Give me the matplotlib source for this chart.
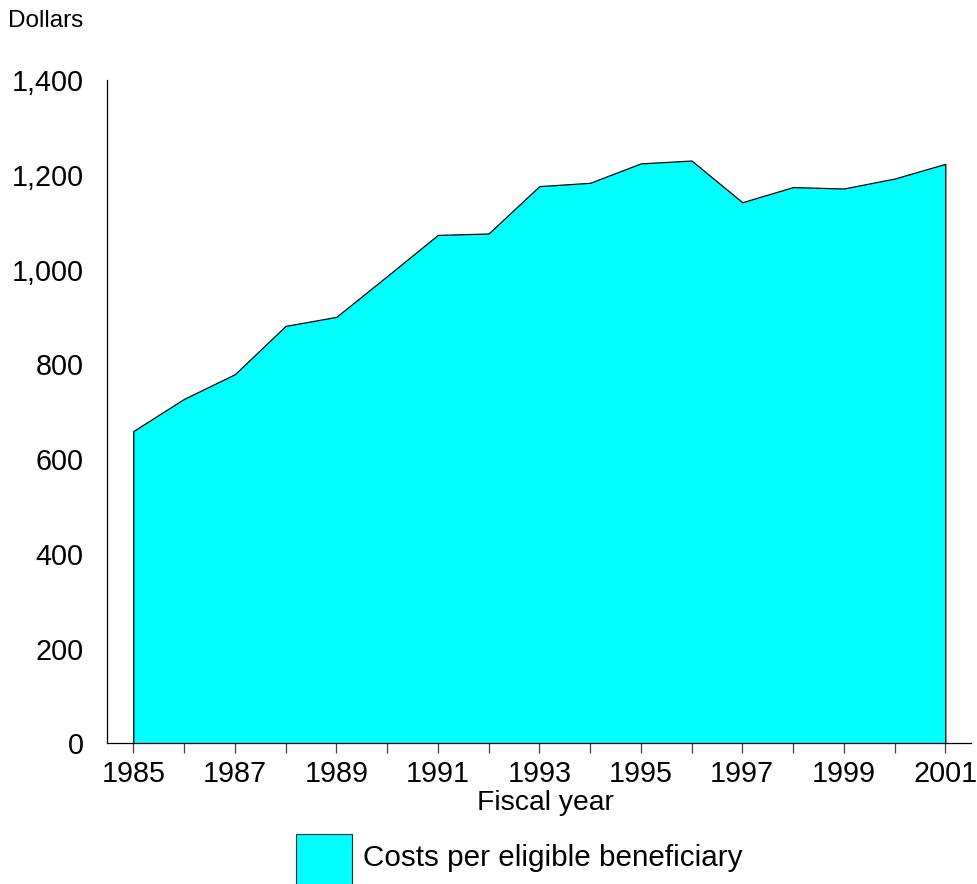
import matplotlib
matplotlib.use("Agg")
import matplotlib.pyplot as plt
from matplotlib.patches import Rectangle
from matplotlib.ticker import FuncFormatter

plt.rcParams['font.family'] = ['Liberation Sans', 'DejaVu Sans']

years = [1985, 1986, 1987, 1988, 1989, 1990, 1991, 1992, 1993, 1994,
         1995, 1996, 1997, 1998, 1999, 2000, 2001]
costs = [659, 727, 779, 881, 900, 986, 1073, 1076, 1176, 1183,
         1224, 1230, 1142, 1174, 1171, 1192, 1223]
y_ticks = [0, 200, 400, 600, 800, 1000, 1200, 1400]
x_label_years = [1985, 1987, 1989, 1991, 1993, 1995, 1997, 1999, 2001]
series_label = "Costs per eligible beneficiary"
fill_color = "#00FFFF"

W, H = 977, 884
fig = plt.figure(figsize=(W / 100, H / 100), dpi=100)
ax = fig.add_axes([107 / W, 1 - 743.3 / H, (971 - 107) / W, (743.3 - 80) / H])

ax.fill_between(years, costs, 0, facecolor=fill_color, edgecolor="black", linewidth=0.9)

ax.set_xlim(1985 - 26.3 / 50.75, 2001 + 25.7 / 50.75)
ax.set_ylim(0, 1400)

ax.set_yticks(y_ticks)
ax.yaxis.set_major_formatter(FuncFormatter(lambda v, p: f"{int(v):,}"))
ax.tick_params(axis='y', length=0, pad=17, labelsize=20.7)

ax.set_xticks(years)
ax.set_xticklabels([str(y) if y in x_label_years else "" for y in years])
ax.tick_params(axis='x', length=7.2, width=0.9, color="#444444", direction='out',
               pad=5, labelsize=20.7)

for s in ['top', 'right']:
    ax.spines[s].set_visible(False)
for s in ['left', 'bottom']:
    ax.spines[s].set_linewidth(0.9)
    ax.spines[s].set_color("black")

ax.set_xlabel("Fiscal year", fontsize=20.3)
ax.xaxis.set_label_coords((545 - 107) / (971 - 107), -(790 - 743.3) / (743.3 - 80))
ax.xaxis.label.set_va('top')

fig.text(8 / W, 1 - 21 / H, "Dollars", fontsize=17.5, va='center', ha='left')

# legend
fig.patches.append(Rectangle((296 / W, 1 - 885 / H), 56 / W, 51 / H,
                             transform=fig.transFigure, facecolor=fill_color,
                             edgecolor="#333333", linewidth=0.8))
fig.text(363 / W, 1 - 858 / H, series_label, fontsize=21.3, va='center', ha='left')

fig.savefig("out.png", dpi=100)
